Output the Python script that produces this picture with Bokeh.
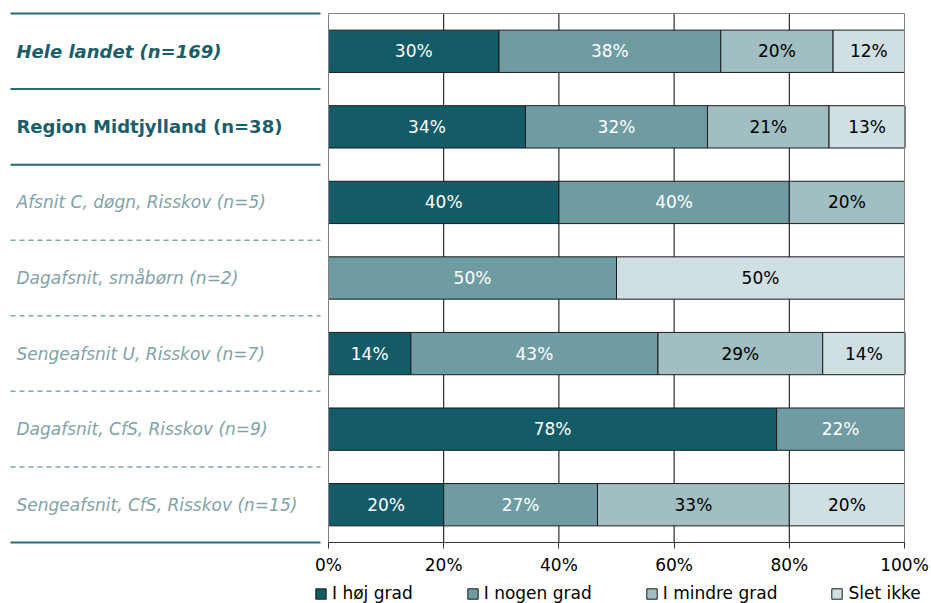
from bokeh.plotting import figure
from bokeh.models import Range1d, FixedTicker, Legend, LegendItem, ColumnDataSource
from bokeh.core.properties import value
from bokeh.embed import file_html
from bokeh.resources import INLINE

categories = ["Hele landet (n=169)", "Region Midtjylland (n=38)",
              "Afsnit C, døgn, Risskov (n=5)", "Dagafsnit, småbørn (n=2)",
              "Sengeafsnit U, Risskov (n=7)", "Dagafsnit, CfS, Risskov (n=9)",
              "Sengeafsnit, CfS, Risskov (n=15)"]
series = ["I høj grad", "I nogen grad", "I mindre grad", "Slet ikke"]
hoj = [29.6, 34.2, 40.0, 0.0, 14.3, 77.8, 20.0]
nogen = [38.5, 31.6, 40.0, 50.0, 42.9, 22.2, 26.7]
mindre = [19.5, 21.1, 20.0, 0.0, 28.6, 0.0, 33.3]
slet = [12.4, 13.2, 0.0, 50.0, 14.3, 0.0, 20.0]
tick_values = [0, 20, 40, 60, 80, 100]
tick_labels = ["0%", "20%", "40%", "60%", "80%", "100%"]

colors = ["#135B66", "#6F9CA2", "#A1BEC2", "#D0DFE2"]
text_colors = ["white", "white", "black", "black"]
FONT = "DejaVu Sans"

n = len(categories)
row_y = [n - 0.5 - i for i in range(n)]

# pixel layout helpers (screen px -> data)
PX_PER_PCT = 5.76
LEFT_PX = 328
ROW_PX = 75.57
W, H = 931, 603
def px2x(px):
    return (px - LEFT_PX) / PX_PER_PCT

top_pad = 3 / ROW_PX
bottom_pad = 61 / ROW_PX
p = figure(width=W, height=H, min_border_left=0, min_border_right=0,
           min_border_top=10, min_border_bottom=0,
           x_range=Range1d(px2x(0), px2x(W)), y_range=Range1d(-bottom_pad, n + top_pad),
           output_backend="svg", toolbar_location=None, tools="")
p.outline_line_color = None
p.background_fill_color = "white"
p.yaxis.visible = False
p.ygrid.visible = False
p.xgrid.visible = False

# vertical gridlines inside the plot box
gx = tick_values[1:-1]
p.segment(x0=gx, x1=gx, y0=[0] * len(gx), y1=[n] * len(gx), line_color="black", line_width=1)

# x axis, drawn at y = 0
ax = p.xaxis[0]
ax.fixed_location = 0
ax.ticker = FixedTicker(ticks=tick_values)
ax.major_label_overrides = {v: l for v, l in zip(tick_values, tick_labels)}
ax.bounds = (tick_values[0], tick_values[-1])
ax.minor_tick_line_color = None
ax.major_tick_in = 0
ax.major_tick_out = 6
ax.major_label_standoff = 7
ax.major_label_text_font = FONT
ax.major_label_text_font_size = "17px"
ax.major_label_text_color = "black"
ax.axis_line_color = "#333333"
ax.major_tick_line_color = "#333333"

# stacked bars
data = {"y": row_y}
for s, vals in zip(series, [hoj, nogen, mindre, slet]):
    data[s] = vals
src = ColumnDataSource(data)
renderers = p.hbar_stack(series, y="y", height=0.56, color=colors, source=src,
                         line_color="#1a1a1a", line_width=1)

# plot box border
p.quad(left=[tick_values[0]], right=[tick_values[-1]], bottom=[0], top=[n],
       fill_color=None, line_color="#808080", line_width=1)

# bar labels
lx, ly, lt, lc = [], [], [], []
for i in range(n):
    cum = 0.0
    for k, vals in enumerate([hoj, nogen, mindre, slet]):
        v = vals[i]
        if v > 0:
            lx.append(cum + v / 2)
            ly.append(row_y[i])
            lt.append(f"{round(v):d}%")
            lc.append(text_colors[k])
        cum += v
p.text(x=lx, y=ly, text=lt, text_color=lc, text_font=value(FONT),
       text_font_size="17px", text_align="center", text_baseline="middle")

# category labels
label_x = px2x(16)
styles = ["bold italic", "bold"] + ["italic"] * (n - 2)
sizes = ["18px", "18px"] + ["17px"] * (n - 2)
lcolors = ["#1B5E69", "#1B5E69"] + ["#7FA3A8"] * (n - 2)
for i in range(n):
    p.text(x=[label_x], y=[row_y[i]], text=[categories[i]], text_color=lcolors[i],
           text_font=value(FONT), text_font_size=sizes[i], text_font_style=styles[i],
           text_align="left", text_baseline="middle")

# separators
x0, x1 = px2x(10), px2x(320)
solid_y = [n, n - 1, n - 2, 0]
dash_y = [n - 3, n - 4, n - 5, n - 6]
p.segment(x0=[x0] * 4, x1=[x1] * 4, y0=solid_y, y1=solid_y, line_color="#2A6B74", line_width=2)
p.segment(x0=[x0] * 4, x1=[x1] * 4, y0=dash_y, y1=dash_y, line_color="#7FA9AF",
          line_width=1.5, line_dash="5 4")

legend = Legend(items=[LegendItem(label=s, renderers=[r]) for s, r in zip(series, renderers)],
                orientation="horizontal", location=(314, 0))
legend.label_text_font = FONT
legend.label_text_font_size = "17px"
legend.label_text_color = "black"
legend.glyph_width = 13
legend.glyph_height = 13
legend.label_standoff = 5
legend.spacing = 53
legend.padding = 1
legend.margin = 0
legend.border_line_color = None
legend.background_fill_alpha = 0
legend.label_height = 18
p.add_layout(legend)

open("out.html", "w").write(file_html(p, INLINE))
